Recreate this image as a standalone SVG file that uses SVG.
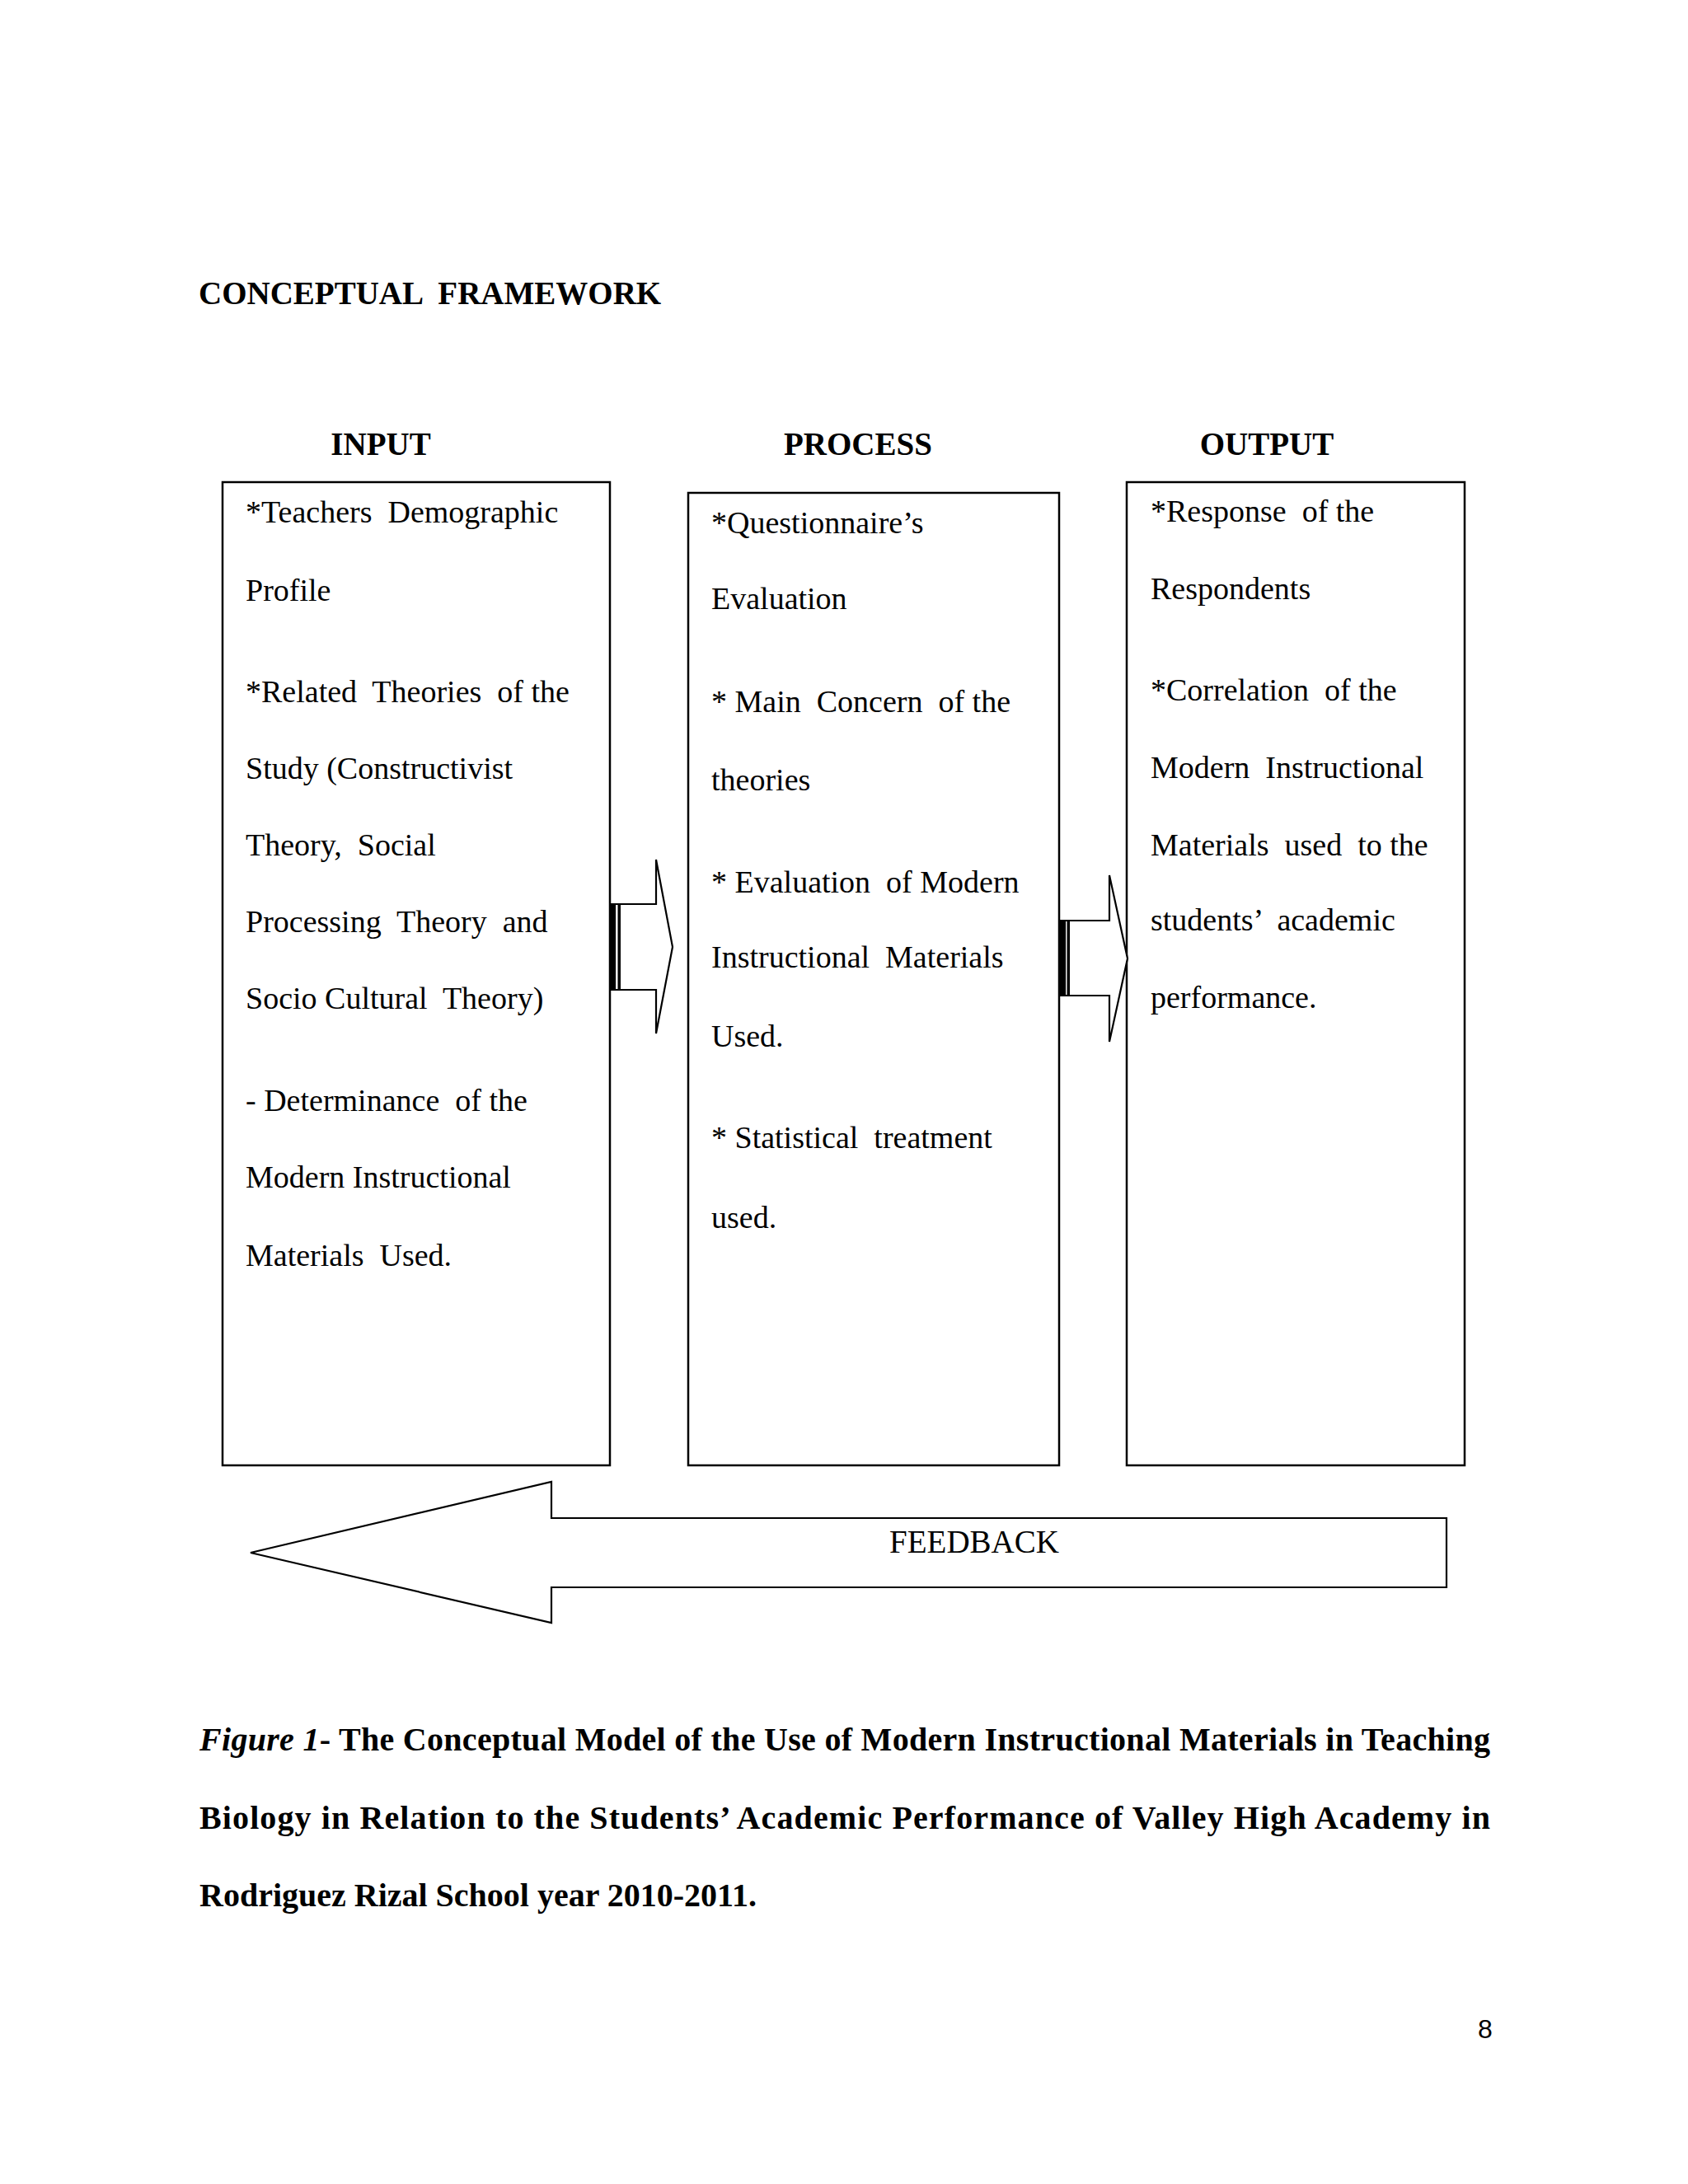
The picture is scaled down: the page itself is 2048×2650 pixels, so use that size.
<svg xmlns="http://www.w3.org/2000/svg" width="2048" height="2650" viewBox="0 0 2048 2650">
<style>
  .t { font-family: "Liberation Serif", "Times New Roman", serif; font-size: 38px; fill: #000; white-space: pre; }
  .b { font-family: "Liberation Serif", "Times New Roman", serif; font-size: 39px; font-weight: bold; fill: #000; white-space: pre; }
  .cap { font-size: 40px; }
  .box { fill: #fff; stroke: #000; stroke-width: 2.5; }
  .arrow { fill: #fff; stroke: #000; stroke-width: 2.2; stroke-linejoin: miter; }
  .pg { font-family: "Liberation Sans", Arial, sans-serif; font-size: 32px; fill: #000; }
</style>
<rect x="0" y="0" width="2048" height="2650" fill="#fff"/>

<g id="title">
  <text class="b" x="241" y="369">CONCEPTUAL  FRAMEWORK</text>
</g>

<g id="headers">
  <text class="b" x="462" y="552" text-anchor="middle">INPUT</text>
  <text class="b" x="1041" y="552" text-anchor="middle">PROCESS</text>
  <text class="b" x="1537" y="552" text-anchor="middle">OUTPUT</text>
</g>

<g id="input">
  <rect class="box" x="270" y="585" width="470" height="1193"/>
  <text class="t" x="298" y="634">*Teachers  Demographic</text>
  <text class="t" x="298" y="729">Profile</text>
  <text class="t" x="298" y="852">*Related  Theories  of the</text>
  <text class="t" x="298" y="945">Study (Constructivist</text>
  <text class="t" x="298" y="1038">Theory,  Social</text>
  <text class="t" x="298" y="1131">Processing  Theory  and</text>
  <text class="t" x="298" y="1224">Socio Cultural  Theory)</text>
  <text class="t" x="298" y="1348">- Determinance  of the</text>
  <text class="t" x="298" y="1441">Modern Instructional</text>
  <text class="t" x="298" y="1536">Materials  Used.</text>
</g>

<g id="process">
  <rect class="box" x="835" y="598" width="450" height="1180"/>
  <text class="t" x="863" y="647">*Questionnaire’s</text>
  <text class="t" x="863" y="739">Evaluation</text>
  <text class="t" x="863" y="864">* Main  Concern  of the</text>
  <text class="t" x="863" y="959">theories</text>
  <text class="t" x="863" y="1083">* Evaluation  of Modern</text>
  <text class="t" x="863" y="1174">Instructional  Materials</text>
  <text class="t" x="863" y="1270">Used.</text>
  <text class="t" x="863" y="1393">* Statistical  treatment</text>
  <text class="t" x="863" y="1490">used.</text>
</g>

<g id="output">
  <rect class="box" x="1367" y="585" width="410" height="1193"/>
  <text class="t" x="1396" y="633">*Response  of the</text>
  <text class="t" x="1396" y="727">Respondents</text>
  <text class="t" x="1396" y="850">*Correlation  of the</text>
  <text class="t" x="1396" y="944">Modern  Instructional</text>
  <text class="t" x="1396" y="1038">Materials  used  to the</text>
  <text class="t" x="1396" y="1129">students’  academic</text>
  <text class="t" x="1396" y="1223">performance.</text>
</g>

<g id="connectors">
  <g id="arrow-input-process">
    <polygon class="arrow" points="746,1097 796,1097 796,1043 816,1149 796,1254 796,1201 746,1201"/>
    <rect x="740" y="1096" width="6" height="106" fill="#000"/>
    <rect x="749.5" y="1096" width="3.5" height="106" fill="#000"/>
  </g>
  <g id="arrow-process-output">
    <polygon class="arrow" points="1292,1117 1346,1117 1346,1062 1368,1163 1346,1264 1346,1208 1292,1208"/>
    <rect x="1285" y="1116" width="6" height="93" fill="#000"/>
    <rect x="1294.5" y="1116" width="3.5" height="93" fill="#000"/>
  </g>
  <g id="feedback">
    <polygon class="arrow" points="1755,1842 669,1842 669,1798 304,1884 669,1969 669,1926 1755,1926"/>
    <text class="t" x="1182" y="1884" text-anchor="middle" style="font-size:39px">FEEDBACK</text>
  </g>
</g>

<g id="caption">
  <text class="b cap" x="242" y="2124" textLength="1566" lengthAdjust="spacing"><tspan font-style="italic">Figure 1</tspan>- The Conceptual Model of the Use of Modern Instructional Materials in Teaching</text>
  <text class="b cap" x="242" y="2219" textLength="1566" lengthAdjust="spacing">Biology in Relation to the Students’ Academic Performance of Valley High Academy in</text>
  <text class="b cap" x="242" y="2313">Rodriguez Rizal School year 2010-2011.</text>
</g>

<g id="page-number">
  <text class="pg" x="1793" y="2473">8</text>
</g>
</svg>
